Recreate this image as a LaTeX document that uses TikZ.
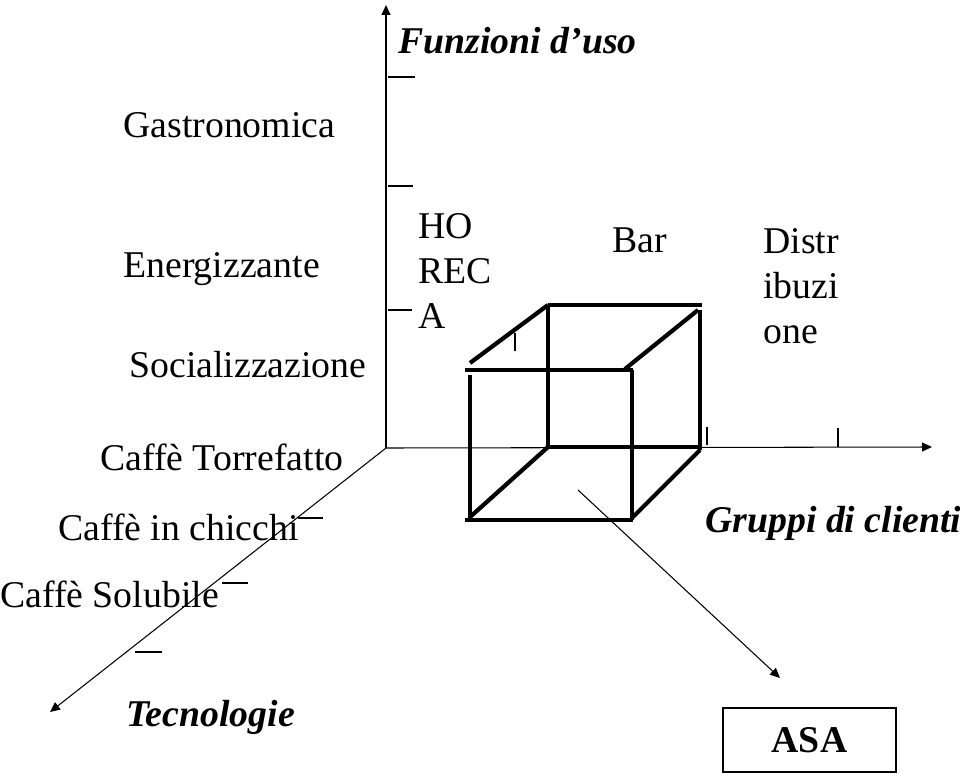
\documentclass[tikz,border=0pt]{standalone}
\usepackage{fontspec}
\setmainfont{Liberation Serif}
\usetikzlibrary{arrows.meta}
\tikzset{
  axisline/.style={line width=0.6pt, -{Triangle[length=2mm,width=1.8mm]}},
  tickline/.style={line width=0.6pt},
  cubeedge/.style={line width=2.4pt},
  lab/.style={font=\fontsize{21.5}{25.6}\selectfont, inner sep=0pt, anchor=base west},
  axislab/.style={lab, font=\fontsize{21.5}{25.6}\selectfont\bfseries\itshape},
  stacklab/.style={lab, align=left, anchor=north west},
}

\begin{document}
\begin{tikzpicture}[x=0.02cm, y=-0.02cm]
    \useasboundingbox (0,0) rectangle (960,774);
    % axes
    \coordinate (O) at (386,448);
    \coordinate (funz) at (386,5);
    \coordinate (grup) at (932,447);
    \coordinate (tecn) at (50,712);
    \draw[axisline] (O) -- (funz);
    \draw[axisline] (O) -- (grup);
    \draw[axisline] (O) -- (tecn);
    % ticks
    \draw[tickline] (388,77) -- (415,77);
    \draw[tickline] (388,186) -- (413,186);
    \draw[tickline] (388,310) -- (412,310);
    \draw[tickline] (707,427) -- (707,445);
    \draw[tickline] (838,428) -- (838,447);
    \draw[tickline] (515,333) -- (515,351);
    \draw[tickline] (298,518) -- (323,518);
    \draw[tickline] (222,583) -- (248,583);
    \draw[tickline] (135,652) -- (162,652);
    % cube
    \draw[cubeedge] (465,370) -- (633,370);
    \draw[cubeedge] (465,520) -- (633,520);
    \draw[cubeedge] (470,375) -- (470,518);
    \draw[cubeedge] (632,370) -- (632,520);
    \draw[cubeedge] (548,305) -- (702,305);
    \draw[cubeedge] (548,305) -- (548,447) -- (700,447);
    \draw[cubeedge] (700,310) -- (700,450);
    \draw[cubeedge] (470,363) -- (548,305);
    \draw[cubeedge] (625,369) -- (698,310);
    \draw[cubeedge] (470,517) -- (548,447);
    \draw[cubeedge] (632,518) -- (700,450);
    % labels
    \node[axislab] (funzlab) at (398,53) {Funzioni d’uso};
    \node[axislab] (gruplab) at (705,532) {Gruppi di clienti};
    \node[axislab] (tecnlab) at (126,726) {Tecnologie};
    \node[lab] (gastro) at (123,137) {Gastronomica};
    \node[lab] (energ) at (123,277) {Energizzante};
    \node[lab] (social) at (129,377) {Socializzazione};
    \node[lab] (torref) at (100,470) {Caffè Torrefatto};
    \node[lab] (chicchi) at (58,540) {Caffè in chicchi};
    \node[lab] (solub) at (0,607) {Caffè Solubile};
    \node[stacklab] (horeca) at (418,213) {HO\\REC\\A};
    \node[lab] (bar) at (612,252) {Bar};
    \node[stacklab] (distr) at (763,228) {Distr\\ibuzi\\one};
    % ASA
    \node[draw, line width=0.6pt, minimum width=3.46cm, minimum height=1.28cm,
          font=\fontsize{21.5}{25.6}\selectfont\bfseries] (asa) at (809.5,740) {ASA};
    \coordinate (asafrom) at (578,490);
    \coordinate (asato) at (780,678);
    \draw[axisline] (asafrom) -- (asato);
\end{tikzpicture}
\end{document}
